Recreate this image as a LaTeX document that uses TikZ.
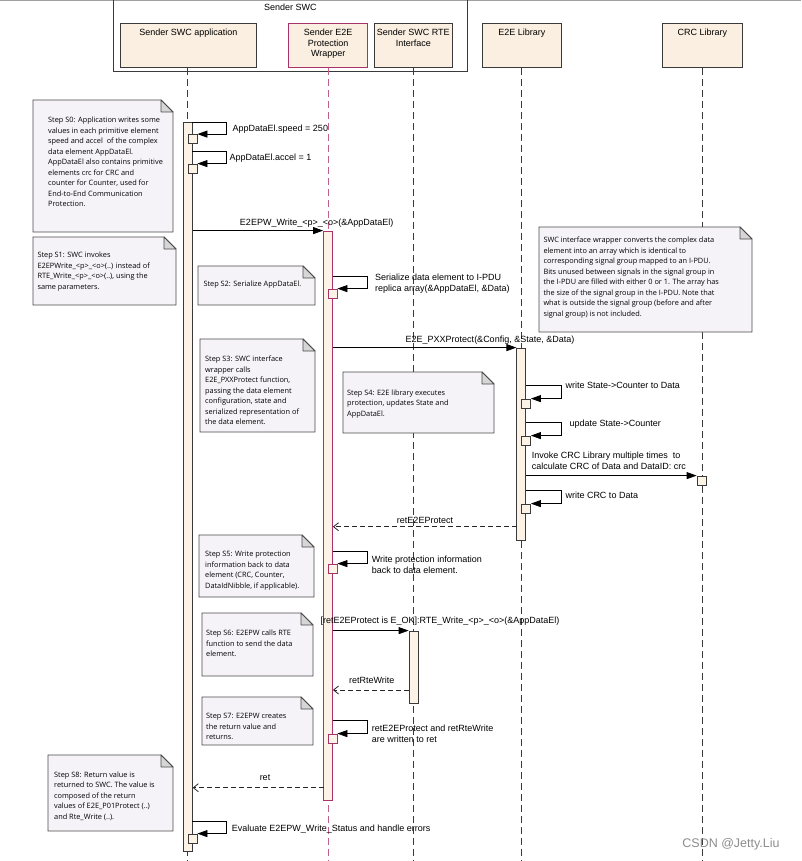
\documentclass[tikz,border=0pt]{standalone}
\usepackage{fontspec}
\setmainfont{Liberation Sans}
\newfontfamily\notefont{Open Sans}
\usetikzlibrary{arrows.meta}
\definecolor{hdrfill}{HTML}{FAEFE0}
\definecolor{barfill}{HTML}{FCF2E5}
\definecolor{linec}{HTML}{3A3A3A}
\definecolor{wrapc}{HTML}{A8336A}
\definecolor{wraplife}{HTML}{C0608C}
\definecolor{notefill}{HTML}{F6F3F8}
\definecolor{noteline}{HTML}{4A4A4A}
\definecolor{foldfill}{HTML}{D6D6D6}
\newcommand\notebox[4]{%
  \draw[notebg] (#1,#2) -- (#3-12,#2) -- (#3,#2+12) -- (#3,#4) -- (#1,#4) -- cycle;
  \draw[foldst] (#3-12,#2) -- (#3-12,#2+12) -- (#3,#2+12) -- cycle;}
\begin{document}
\begin{tikzpicture}[x=1pt,y=-1pt,
  hdr/.style={draw=linec, fill=hdrfill, line width=0.9pt, inner sep=0pt},
  htxt/.style={font=\fontsize{9}{10.5}\selectfont, align=center, anchor=north, inner sep=0pt},
  life/.style={draw=linec, line width=0.8pt, dash pattern=on 7pt off 4pt},
  bar/.style={draw=linec, fill=barfill, line width=0.8pt, minimum width=9pt, inner sep=0pt},
  sbox/.style={draw=linec, fill=barfill, line width=0.8pt, minimum width=9pt, minimum height=9pt, inner sep=0pt},
  sync/.style={draw=black, line width=0.8pt, -{Triangle[length=10pt,width=7pt]}},
  ret/.style={draw=black!85, line width=0.8pt, dash pattern=on 5pt off 3pt, -{Straight Barb[length=5pt,width=8pt]}},
  lbl/.style={font=\fontsize{9}{11.6}\selectfont, inner sep=0pt},
  notebg/.style={draw=noteline, fill=notefill, line width=0.8pt},
  foldst/.style={draw=noteline, fill=foldfill, line width=0.8pt, line join=round},
  ntxt/.style={font=\notefont\fontsize{7.35}{10.5}\selectfont, align=left, anchor=north west, inner sep=0pt}
]
\useasboundingbox (0,0) rectangle (801,861);
% top border and Sender SWC frame
\draw[gray!75, line width=1.5pt] (0,0.75) -- (801,0.75);
\draw[linec, line width=0.9pt] (113,0) -- (113,71.7) -- (467.7,71.7) -- (467.7,0);
\node[htxt] (tSWC) at (290.3,3.4) {Sender SWC};

% headers
\node[hdr, minimum width=135.3pt, minimum height=44.4pt] (hApp) at (188.3,45.5) {};
\node[hdr, draw=wrapc, minimum width=79pt, minimum height=44.4pt] (hWrap) at (328.2,45.5) {};
\node[hdr, minimum width=78.7pt, minimum height=44.4pt] (hRte) at (413.3,45.5) {};
\node[hdr, minimum width=78.3pt, minimum height=44.4pt] (hE2E) at (521.8,45.5) {};
\node[hdr, minimum width=79.3pt, minimum height=44.4pt] (hCrc) at (702.3,45.5) {};
\node[htxt] (tApp) at (188.3,29) {Sender SWC application};
\node[htxt] (tWrap) at (328.2,29) {Sender E2E\\Protection\\Wrapper};
\node[htxt] (tRte) at (413.3,29) {Sender SWC RTE\\Interface};
\node[htxt] (tE2E) at (521.8,29) {E2E Library};
\node[htxt] (tCrc) at (702.3,29) {CRC Library};

% lifelines
\coordinate (lApp) at (187.8,861);
\coordinate (lWrap) at (328,861);
\coordinate (lRte) at (413.3,861);
\coordinate (lE2E) at (521.5,861);
\coordinate (lCrc) at (702,861);
\draw[life] (hApp.south -| lApp) -- (lApp);
\draw[life, draw=wraplife] (hWrap.south -| lWrap) -- (lWrap);
\draw[life] (hRte.south -| lRte) -- (lRte);
\draw[life] (hE2E.south -| lE2E) -- (lE2E);
\draw[life] (hCrc.south -| lCrc) -- (lCrc);

% notes
\notebox{33}{100}{173}{232}
\node[ntxt] (n0) at (48,117) {Step S0: Application writes some\\values in each primitive element\\speed and accel\ \ of the complex\\data element AppDataEl.\\AppDataEl also contains primitive\\elements crc for CRC and\\counter for Counter, used for\\End-to-End Communication\\Protection.};
\notebox{33}{237}{176}{305}
\node[ntxt] (n1) at (37.3,252) {Step S1: SWC invokes\\E2EPWrite\_<p>\_<o>(..) instead of\\RTE\_Write\_<p>\_<o>(..), using the\\same parameters.};
\notebox{198}{266}{315}{305}
\node[ntxt] (n2) at (203.3,281) {Step S2: Serialize AppDataEl.};
\notebox{539}{227}{752}{332}
\node[ntxt] (nW) at (543.3,237) {SWC interface wrapper converts the complex data\\element into an array which is identical to\\corresponding signal group mapped to an I-PDU.\\Bits unused between signals in the signal group in\\the I-PDU are filled with either 0 or 1. The array has\\the size of the signal group in the I-PDU. Note that\\what is outside the signal group (before and after\\signal group) is not included.};
\notebox{200}{339}{315}{432}
\node[ntxt] (n3) at (205,356) {Step S3: SWC interface\\wrapper calls\\E2E\_PXXProtect function,\\passing the data element\\configuration, state and\\serialized representation of\\the data element.};
\notebox{343}{372}{494}{433}
\node[ntxt] (n4) at (347,389.7) {Step S4: E2E library executes\\protection, updates State and\\AppDataEl.};
\notebox{199}{535}{314}{597}
\node[ntxt] (n5) at (205,551) {Step S5: Write protection\\information back to data\\element (CRC, Counter,\\DataIdNibble, if applicable).};
\notebox{202}{613}{313}{676}
\node[ntxt] (n6) at (206,630) {Step S6: E2EPW calls RTE\\function to send the data\\element.};
\notebox{202}{697}{313}{745}
\node[ntxt] (n7) at (206,713) {Step S7: E2EPW creates\\the return value and\\returns.};
\notebox{48}{755}{173}{831}
\node[ntxt] (n8) at (54,771.3) {Step S8: Return value is\\returned to SWC. The value is\\composed of the return\\values of E2E\_P01Protect (..)\\and Rte\_Write (..).};

% activation bars
\node[bar, minimum height=729pt] (aApp) at (187.8,486.5) {};
\node[bar, draw=wrapc, minimum height=569.7pt] (aWrap) at (328,515.85) {};
\node[bar, minimum height=72pt] (aRte) at (413.5,667) {};
\node[bar, minimum height=192pt] (aE2E) at (521.25,444) {};
\node[sbox, minimum width=9.7pt] (cCrc) at (701.85,480.5) {};

% small self-call boxes
\node[sbox] (b1) at (192.5,139) {};
\node[sbox] (b2) at (192.5,168.5) {};
\node[sbox] (b3) at (192.5,838.5) {};
\node[sbox, draw=wrapc] (w1) at (332.5,293.5) {};
\node[sbox, draw=wrapc] (w2) at (332.5,568.5) {};
\node[sbox, draw=wrapc] (w3) at (332.5,738.5) {};
\node[sbox] (e1) at (526,403.5) {};
\node[sbox] (e2) at (526,440.5) {};
\node[sbox] (e3) at (526,508.5) {};

% self-call start points
\coordinate (sA1) at (192.3,122.5);
\coordinate (sA2) at (192.3,151);
\coordinate (sA3) at (192.3,821);
\coordinate (sW1) at (332.5,276);
\coordinate (sW2) at (332.5,551.7);
\coordinate (sW3) at (332.5,720.7);
\coordinate (sE1) at (526,385);
\coordinate (sE2) at (526,422.7);
\coordinate (sE3) at (526,490.7);
\draw[sync] (sA1) -- ++(34.5,0) |- (b1.north east);
\draw[sync] (sA2) -- ++(34.5,0) |- (b2.north east);
\draw[sync] (sA3) -- ++(34.5,0) |- (b3.north east);
\draw[sync] (sW1) -- ++(34.5,0) |- (w1.north east);
\draw[sync] (sW2) -- ++(34.5,0) |- (w2.north east);
\draw[sync] (sW3) -- ++(34.5,0) |- (w3.north east);
\draw[sync] (sE1) -- ++(35,0) |- (e1.north east);
\draw[sync] (sE2) -- ++(35,0) |- (e2.north east);
\draw[sync] (sE3) -- ++(35,0) |- (e3.north east);

% calls
\draw[sync] (aApp.east |- aWrap.north) -- (aWrap.north west);
\draw[sync] (aWrap.east |- aE2E.north) -- (aE2E.north west);
\draw[sync] (aE2E.east |- cCrc.north) -- (cCrc.north west);
\draw[sync] (aWrap.east |- aRte.north) -- (aRte.north west);

% returns
\coordinate (r1) at (516.6,526.7);
\coordinate (r2) at (409,690);
\coordinate (r3) at (323.5,787.7);
\draw[ret] (r1) -- (aWrap.east |- r1);
\draw[ret] (r2) -- (aWrap.east |- r2);
\draw[ret] (r3) -- (aApp.east |- r3);

% labels
\node[lbl, anchor=base west] (L1) at (232.5,131.5) {AppDataEl.speed = 250};
\node[lbl, anchor=base west] (L2) at (229.3,160.5) {AppDataEl.accel = 1};
\node[lbl, anchor=base] (L3) at (316.7,225) {E2EPW\_Write\_<p>\_<o>(\&AppDataEl)};
\node[lbl, anchor=north west, align=left] (L4) at (375,273.3) {Serialize data element to I-PDU\\replica array(\&AppDataEl, \&Data)};
\node[lbl, anchor=base] (L5) at (490,342.3) {E2E\_PXXProtect(\&Config, \&State, \&Data)};
\node[lbl, anchor=base west] (L6) at (565.3,388.5) {write State->Counter to Data};
\node[lbl, anchor=base west] (L7) at (569.3,426.5) {update State->Counter};
\node[lbl, anchor=north west, align=left, font=\fontsize{9}{11.2}\selectfont] (L8) at (531.7,451.6) {Invoke CRC Library multiple times\ \ to\\calculate CRC of Data and DataID: crc};
\node[lbl, anchor=base west] (L9) at (565.3,498.2) {write CRC to Data};
\node[lbl, anchor=base] (L10) at (425,523.2) {retE2EProtect};
\node[lbl, anchor=north west, align=left] (L11) at (371.7,555.6) {Write protection information\\back to data element.};
\node[lbl, anchor=base] (L12) at (440,623.2) {[retE2EProtect is E\_OK]:RTE\_Write\_<p>\_<o>(\&AppDataEl)};
\node[lbl, anchor=base] (L13) at (371.7,683.2) {retRteWrite};
\node[lbl, anchor=north west, align=left] (L14) at (371.7,724.3) {retE2EProtect and retRteWrite\\are written to ret};
\node[lbl, anchor=base] (L15) at (265,780) {ret};
\node[lbl, anchor=base west] (L16) at (231.7,831.5) {Evaluate E2EPW\_Write\_Status and handle errors};

% watermark
\node[font=\fontsize{12.5}{14}\selectfont, text=black!45, anchor=base, inner sep=0pt] (wm) at (731,847.5) {CSDN @Jetty.Liu};
\end{tikzpicture}
\end{document}
